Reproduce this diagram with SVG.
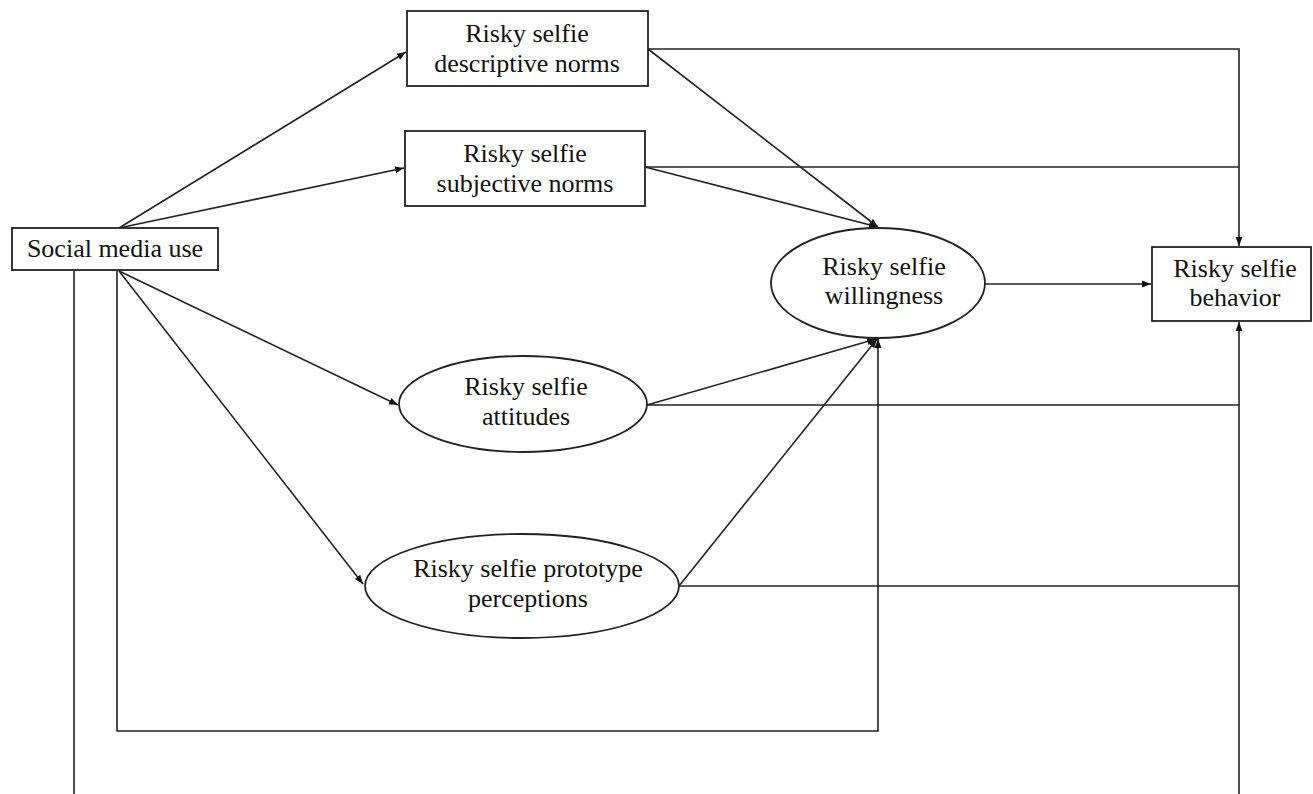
<svg xmlns="http://www.w3.org/2000/svg" width="1313" height="794" viewBox="0 0 1313 794">
<defs>
<marker id="ah" markerWidth="10" markerHeight="8" refX="9" refY="4" orient="auto" markerUnits="userSpaceOnUse">
<path d="M0,0.5 L9,4 L0,7.5 Z" fill="#111"/>
</marker>
<style>
.n{fill:#fff;stroke:#222;stroke-width:1.8}
.t{font-family:"Liberation Serif","Times New Roman",serif;font-size:26px;fill:#111;text-anchor:middle}
.c{fill:none;stroke:#222;stroke-width:1.6}
.a{marker-end:url(#ah)}
</style>
</defs>
<rect width="1313" height="794" fill="#fff"/>
<g id="connectors">
<line class="c a" x1="119" y1="228" x2="406" y2="52"/>
<line class="c a" x1="119" y1="228" x2="404" y2="168"/>
<line class="c a" x1="119" y1="271" x2="398" y2="405"/>
<line class="c a" x1="119" y1="271" x2="363" y2="584"/>
<polyline class="c" points="74,271 74,794"/>
<polyline class="c a" points="117,271 117,731 878,731 878,339"/>
<line class="c a" x1="648" y1="49" x2="878" y2="227"/>
<line class="c a" x1="645" y1="167" x2="878" y2="227"/>
<line class="c a" x1="647" y1="405" x2="876" y2="339"/>
<line class="c a" x1="679" y1="586" x2="877" y2="339"/>
<polyline class="c a" points="648,49 1239,49 1239,246"/>
<line class="c" x1="645" y1="167" x2="1239" y2="167"/>
<line class="c" x1="647" y1="405" x2="1239" y2="405"/>
<line class="c" x1="679" y1="586" x2="1239" y2="586"/>
<line class="c a" x1="1239" y1="794" x2="1239" y2="322"/>
<line class="c a" x1="985" y1="284" x2="1151" y2="284"/>
</g>
<g id="social">
<rect class="n" x="12" y="228" width="206" height="42"/>
<text class="t" x="115" y="257">Social media use</text>
</g>
<g id="descriptive">
<rect class="n" x="407" y="11" width="241" height="75"/>
<text class="t" x="527" y="42">Risky selfie</text>
<text class="t" x="527" y="72">descriptive norms</text>
</g>
<g id="subjective">
<rect class="n" x="405" y="131" width="240" height="75"/>
<text class="t" x="525" y="162">Risky selfie</text>
<text class="t" x="525" y="192">subjective norms</text>
</g>
<g id="willingness">
<ellipse class="n" cx="878" cy="283" rx="107" ry="55"/>
<text class="t" x="884" y="275">Risky selfie</text>
<text class="t" x="884" y="304">willingness</text>
</g>
<g id="behavior">
<rect class="n" x="1152" y="247" width="159" height="74"/>
<text class="t" x="1235" y="277">Risky selfie</text>
<text class="t" x="1235" y="306">behavior</text>
</g>
<g id="attitudes">
<ellipse class="n" cx="523" cy="404" rx="124" ry="48"/>
<text class="t" x="526" y="395">Risky selfie</text>
<text class="t" x="526" y="425">attitudes</text>
</g>
<g id="prototype">
<ellipse class="n" cx="522" cy="586" rx="157" ry="52"/>
<text class="t" x="528" y="577">Risky selfie prototype</text>
<text class="t" x="528" y="607">perceptions</text>
</g>
</svg>
